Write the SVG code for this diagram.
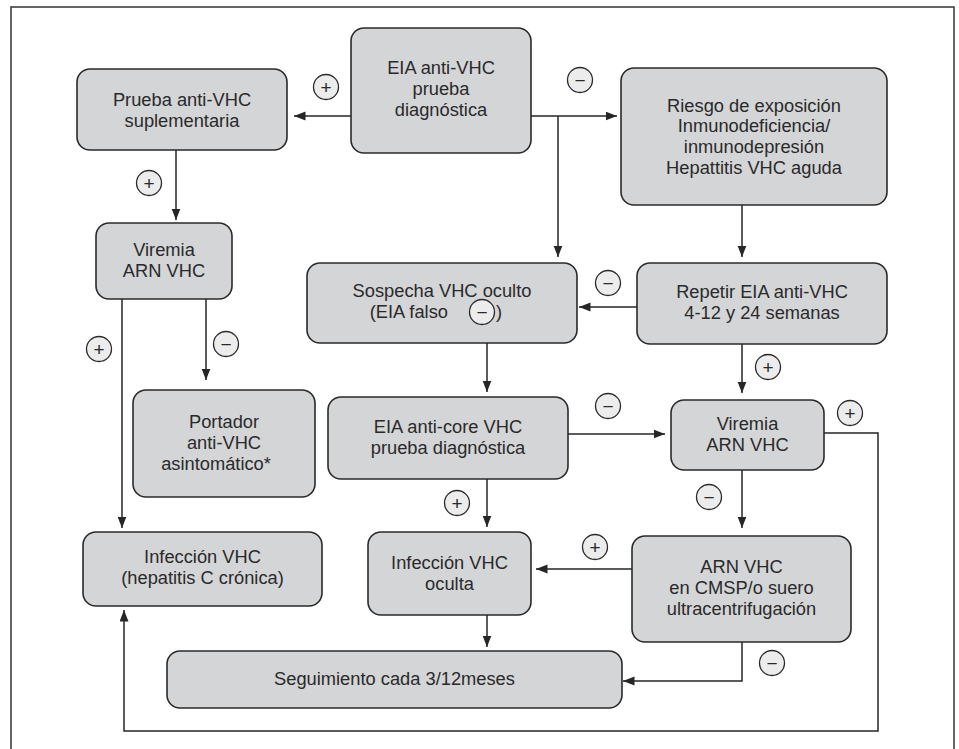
<svg xmlns="http://www.w3.org/2000/svg" width="959" height="749" viewBox="0 0 959 749">
<defs>
<marker id="ah" markerUnits="userSpaceOnUse" markerWidth="12" markerHeight="10" refX="11.5" refY="4.5" orient="auto">
<path d="M0,0 L11.5,4.5 L0,9 z" fill="#262626"/>
</marker>
<style>
.box{fill:#d4d5d7;stroke:#2a2a2a;stroke-width:1.6}
.t{font-family:"Liberation Sans Narrow","Liberation Sans",Arial,sans-serif;font-size:18.3px;fill:#2a2a2a;text-anchor:middle}
.c{fill:#ececec;stroke:#2a2a2a;stroke-width:1.3}
.s{font-family:"Liberation Sans","DejaVu Sans",sans-serif;font-size:19px;fill:#2a2a2a;text-anchor:middle}
.ln{fill:none;stroke:#262626;stroke-width:1.5}
.frame{fill:none;stroke:#333;stroke-width:1.5}
</style>
</defs>
<rect width="959" height="749" fill="#ffffff"/>
<path class="frame" d="M11,749 V7 H954 V749"/>

<g id="connectors">
<path class="ln" d="M351,116 H294" marker-end="url(#ah)"/>
<path class="ln" d="M531,116 H617" marker-end="url(#ah)"/>
<path class="ln" d="M558,116 V257" marker-end="url(#ah)"/>
<path class="ln" d="M176,150 V220" marker-end="url(#ah)"/>
<path class="ln" d="M742,205 V257" marker-end="url(#ah)"/>
<path class="ln" d="M637,307 H579" marker-end="url(#ah)"/>
<path class="ln" d="M487,343 V392" marker-end="url(#ah)"/>
<path class="ln" d="M742,344 V393" marker-end="url(#ah)"/>
<path class="ln" d="M206,299 V380" marker-end="url(#ah)"/>
<path class="ln" d="M122,299 V528" marker-end="url(#ah)"/>
<path class="ln" d="M568,434 H665" marker-end="url(#ah)"/>
<path class="ln" d="M824,433 H878 V731 H124 V610" marker-end="url(#ah)"/>
<path class="ln" d="M742,470 V528" marker-end="url(#ah)"/>
<path class="ln" d="M632,569 H536" marker-end="url(#ah)"/>
<path class="ln" d="M742,642 V681 H623" marker-end="url(#ah)"/>
<path class="ln" d="M487,479 V527" marker-end="url(#ah)"/>
<path class="ln" d="M487,615 V647" marker-end="url(#ah)"/>
</g>

<g id="labels">
<circle class="c" cx="326" cy="87" r="12.5"/><text class="s" x="326" y="93.5">+</text>
<circle class="c" cx="580" cy="80" r="12.5"/><text class="s" x="580" y="86.5">−</text>
<circle class="c" cx="149" cy="183" r="12.5"/><text class="s" x="149" y="189.5">+</text>
<circle class="c" cx="608" cy="283" r="12.5"/><text class="s" x="608" y="289.5">−</text>
<circle class="c" cx="99" cy="349" r="12.5"/><text class="s" x="99" y="355.5">+</text>
<circle class="c" cx="226" cy="344" r="12.5"/><text class="s" x="226" y="350.5">−</text>
<circle class="c" cx="768" cy="367" r="12.5"/><text class="s" x="768" y="373.5">+</text>
<circle class="c" cx="608" cy="406" r="12.5"/><text class="s" x="608" y="412.5">−</text>
<circle class="c" cx="850" cy="413" r="12.5"/><text class="s" x="850" y="419.5">+</text>
<circle class="c" cx="457" cy="503" r="12.5"/><text class="s" x="457" y="509.5">+</text>
<circle class="c" cx="709" cy="497" r="12.5"/><text class="s" x="709" y="503.5">−</text>
<circle class="c" cx="595" cy="547" r="12.5"/><text class="s" x="595" y="553.5">+</text>
<circle class="c" cx="772" cy="663" r="12.5"/><text class="s" x="772" y="669.5">−</text>
</g>

<g id="eia-anti-vhc">
<rect class="box" x="351" y="28" width="180" height="125" rx="13"/>
<text class="t" x="441" y="73.5">EIA anti-VHC</text>
<text class="t" x="441" y="94.5">prueba</text>
<text class="t" x="441" y="115.5">diagnóstica</text>
</g>
<g id="prueba-suplementaria">
<rect class="box" x="77" y="69" width="210" height="81" rx="13"/>
<text class="t" x="182" y="105.5">Prueba anti-VHC</text>
<text class="t" x="182" y="126.5">suplementaria</text>
</g>
<g id="riesgo">
<rect class="box" x="621" y="68" width="266" height="137" rx="13"/>
<text class="t" x="754" y="111.5">Riesgo de exposición</text>
<text class="t" x="754" y="132.2">Inmunodeficiencia/</text>
<text class="t" x="754" y="152.9">inmunodepresión</text>
<text class="t" x="754" y="173.6">Hepattitis VHC aguda</text>
</g>
<g id="viremia-1">
<rect class="box" x="96" y="223" width="136" height="76" rx="13"/>
<text class="t" x="164" y="256">Viremia</text>
<text class="t" x="164" y="277">ARN VHC</text>
</g>
<g id="sospecha">
<rect class="box" x="307" y="263" width="270" height="80" rx="13"/>
<text class="t" x="442" y="296.5">Sospecha VHC oculto</text>
<text class="t" x="448" y="317.5" style="text-anchor:end">(EIA falso</text>
<circle class="c" cx="482" cy="312" r="12.5"/><text class="s" x="482" y="318.5">−</text>
<text class="t" x="496" y="317.5" style="text-anchor:start">)</text>
</g>
<g id="repetir">
<rect class="box" x="637" y="263" width="250" height="81" rx="13"/>
<text class="t" x="762" y="297.5">Repetir EIA anti-VHC</text>
<text class="t" x="762" y="318.5">4-12 y 24 semanas</text>
</g>
<g id="portador">
<rect class="box" x="133" y="390" width="182" height="107" rx="13"/>
<text class="t" x="224" y="427.5">Portador</text>
<text class="t" x="224" y="448.5">anti-VHC</text>
<text class="t" x="216" y="469.5">asintomático*</text>
</g>
<g id="eia-anti-core">
<rect class="box" x="328" y="397" width="240" height="82" rx="13"/>
<text class="t" x="448" y="432.5">EIA anti-core VHC</text>
<text class="t" x="448" y="453.5">prueba diagnóstica</text>
</g>
<g id="viremia-2">
<rect class="box" x="671" y="400" width="153" height="70" rx="13"/>
<text class="t" x="747.5" y="429.5">Viremia</text>
<text class="t" x="747.5" y="450.5">ARN VHC</text>
</g>
<g id="infeccion-vhc">
<rect class="box" x="83" y="532" width="239" height="74" rx="13"/>
<text class="t" x="202.5" y="562.5">Infección VHC</text>
<text class="t" x="202.5" y="583.5">(hepatitis C crónica)</text>
</g>
<g id="infeccion-oculta">
<rect class="box" x="368" y="532" width="163" height="83" rx="13"/>
<text class="t" x="449.5" y="568.5">Infección VHC</text>
<text class="t" x="449.5" y="589.5">oculta</text>
</g>
<g id="arn-vhc">
<rect class="box" x="632" y="536" width="219" height="106" rx="13"/>
<text class="t" x="741.5" y="572.5">ARN VHC</text>
<text class="t" x="741.5" y="593.5">en CMSP/o suero</text>
<text class="t" x="741.5" y="614.5">ultracentrifugación</text>
</g>
<g id="seguimiento">
<rect class="box" x="167" y="651" width="455" height="57" rx="13"/>
<text class="t" x="394.5" y="685">Seguimiento cada 3/12meses</text>
</g>
</svg>
